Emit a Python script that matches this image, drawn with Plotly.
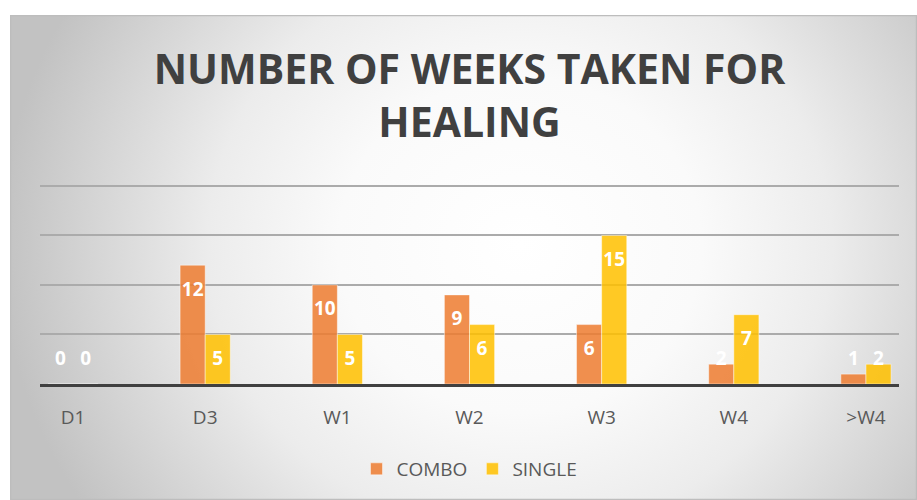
import base64
import plotly.graph_objects as go

categories = ["D1", "D3", "W1", "W2", "W3", "W4", ">W4"]
combo = [0, 12, 10, 9, 6, 2, 1]
single = [0, 5, 5, 6, 15, 7, 2]
series_names = ["COMBO", "SINGLE"]

W, H = 917, 500
L, R, T, B = 40, 899, 181, 384
YMAX = 20.5
BW = 0.19

idx = list(range(len(categories)))

svg = (
    '<svg xmlns="http://www.w3.org/2000/svg" width="907" height="485" viewBox="0 0 907 485" preserveAspectRatio="none">'
    '<defs><radialGradient id="g" gradientUnits="userSpaceOnUse" cx="0" cy="0" r="1" '
    'gradientTransform="translate(510 230) scale(520 480)">'
    '<stop offset="0" stop-color="#ffffff"/><stop offset="0.35" stop-color="#fafafa"/>'
    '<stop offset="0.6" stop-color="#ececec"/><stop offset="0.85" stop-color="#d2d2d2"/>'
    '<stop offset="1" stop-color="#c2c2c2"/></radialGradient></defs>'
    '<rect x="0" y="0" width="907" height="485" fill="url(#g)"/>'
    '<rect x="0.5" y="0.5" width="906" height="484" fill="none" stroke="#bdbdbd" stroke-width="1.5"/>'
    '</svg>'
)
src = "data:image/svg+xml;base64," + base64.b64encode(svg.encode()).decode()

def px_to_paper_x(p):
    return (p - L) / (R - L)

def px_to_paper_y(p):
    return (B - p) / (B - T)

fig = go.Figure()
fig.add_trace(go.Bar(
    x=idx, y=combo, name=series_names[0], width=BW, offset=-BW,
    marker=dict(color="rgba(237,125,49,0.86)", line=dict(color="rgba(255,255,255,0.45)", width=1)),
))
fig.add_trace(go.Bar(
    x=idx, y=single, name=series_names[1], width=BW, offset=0,
    marker=dict(color="rgba(255,192,0,0.86)", line=dict(color="rgba(255,255,255,0.45)", width=1)),
))

for vals, sign in ((combo, -1), (single, 1)):
    fig.add_trace(go.Scatter(
        x=[i + sign * BW / 2 for i in idx],
        y=[max(v - 2.6, 2.4) for v in vals],
        text=[str(v) for v in vals],
        mode="text",
        textfont=dict(family="Open Sans", size=19, color="white", weight="bold"),
        showlegend=False, hoverinfo="skip", cliponaxis=False,
    ))

fig.update_layout(
    width=W, height=H,
    margin=dict(l=L, r=W - R, t=T, b=H - B, pad=0),
    paper_bgcolor="white", plot_bgcolor="rgba(0,0,0,0)",
    barmode="overlay",
    font=dict(family="Open Sans", color="#595959"),
    title=dict(
        text="NUMBER OF WEEKS TAKEN FOR<br>HEALING",
        x=0.5, xref="paper", xanchor="center",
        y=1 - 84 / H, yref="container", yanchor="top",
        font=dict(family="Open Sans", size=41, color="#404040", weight="bold"),
    ),
    xaxis=dict(
        range=[-0.25, 6.25], tickvals=idx, ticktext=categories,
        showgrid=False, zeroline=False,
        showline=True, linecolor="#404040", linewidth=3,
        ticks="outside", ticklen=14, tickcolor="rgba(0,0,0,0)",
        tickfont=dict(family="Open Sans", size=19, color="#595959"),
    ),
    yaxis=dict(
        range=[0, YMAX], tick0=0, dtick=5, showgrid=True, gridcolor="#ababab", gridwidth=1.5,
        showticklabels=False, zeroline=False, showline=False,
    ),
    legend=dict(
        orientation="h", x=0.5, xanchor="center", y=px_to_paper_y(469), yanchor="middle",
        font=dict(family="Open Sans", size=19, color="#595959"),
        bgcolor="rgba(255,255,255,0)", itemwidth=30,
    ),
    images=[dict(
        source=src, xref="paper", yref="paper",
        x=px_to_paper_x(10), y=px_to_paper_y(15),
        sizex=px_to_paper_x(917) - px_to_paper_x(10),
        sizey=px_to_paper_y(15) - px_to_paper_y(500),
        xanchor="left", yanchor="top", sizing="stretch", layer="below",
    )],
)

fig.write_html(
    "out.html",
    config={"displayModeBar": False},
    post_script="document.body.style.margin='0';document.body.style.padding='0';",
)
